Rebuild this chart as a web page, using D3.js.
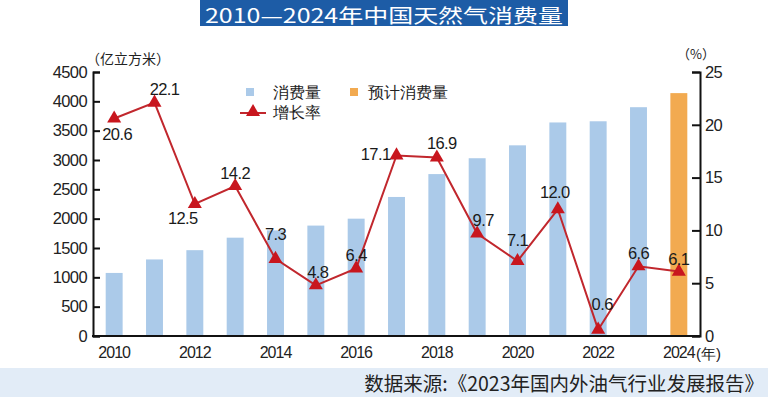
<!DOCTYPE html>
<html>
<head>
<meta charset="utf-8">
<script src="https://cdn.jsdelivr.net/npm/d3@7"></script>
<style>
  body { margin: 0; background: #fff; }
  svg { display: block; }
  text { font-family: "Liberation Sans", Arial, sans-serif; }
  .cjk { font-family: "Noto Sans CJK SC", sans-serif; }
</style>
</head>
<body>
<svg id="chart" width="768" height="397"></svg>
<script>
// data
const years = ['2010', '2011', '2012', '2013', '2014', '2015', '2016', '2017',
  '2018', '2019', '2020', '2021', '2022', '2023', '2024'];
const consumption = [1075, 1305, 1463, 1676, 1800, 1882, 2000, 2370,
  2760, 3030, 3250, 3640, 3660, 3900, 4140];
const growth = [20.6, 22.1, 12.5, 14.2, 7.3, 4.8, 6.4, 17.1, 16.9, 9.7, 7.1, 12.0, 0.6, 6.6, 6.1];
const forecastYear = '2024';
const leftTicks = [0, 500, 1000, 1500, 2000, 2500, 3000, 3500, 4000, 4500];
const rightTicks = [0, 5, 10, 15, 20, 25];
const xTickYears = ['2010', '2012', '2014', '2016', '2018', '2020', '2022', '2024'];

const svg = d3.select('#chart');

const plot = { left: 94, right: 699, top: 72, bottom: 336 };

const x = d3.scaleBand()
  .domain(years)
  .range([plot.left, plot.right])
  .paddingInner(0.58)
  .paddingOuter(0.29);

const yL = d3.scaleLinear().domain([0, 4500]).range([plot.bottom, plot.top]);
const yR = d3.scaleLinear().domain([0, 25]).range([plot.bottom, plot.top]);

// title
svg.append('rect')
  .attr('x', 200).attr('y', 0).attr('width', 368).attr('height', 26)
  .attr('fill', '#1d5ca6');
svg.append('text')
  .attr('class', 'cjk')
  .attr('x', 384).attr('y', 23)
  .attr('text-anchor', 'middle')
  .attr('fill', '#fff')
  .attr('font-size', 19.5)
  .attr('textLength', 358)
  .attr('lengthAdjust', 'spacingAndGlyphs')
  .text('2010—2024年中国天然气消费量');

// footer band
svg.append('rect')
  .attr('x', 0).attr('y', 368).attr('width', 768).attr('height', 29)
  .attr('fill', '#e2ecf7');
svg.append('text')
  .attr('class', 'cjk')
  .attr('x', 764).attr('y', 391)
  .attr('text-anchor', 'end')
  .attr('fill', '#222')
  .attr('font-size', 19.5)
  .text('数据来源:《2023年国内外油气行业发展报告》');

// bars
svg.append('g')
  .selectAll('rect')
  .data(years)
  .join('rect')
  .attr('x', d => x(d))
  .attr('width', x.bandwidth())
  .attr('y', (d, i) => yL(consumption[i]))
  .attr('height', (d, i) => yL(0) - yL(consumption[i]))
  .attr('fill', d => d === forecastYear ? '#f2aa50' : '#abcae9');

// axes
const axisStyle = g => {
  g.selectAll('path.domain').attr('stroke', '#111').attr('stroke-width', 2);
  g.selectAll('.tick line').attr('stroke', '#111').attr('stroke-width', 2);
  g.selectAll('.tick text')
    .attr('fill', '#222')
    .attr('font-size', 16.5)
    .attr('letter-spacing', -0.6);
};

svg.append('g')
  .attr('transform', `translate(${plot.left - 1},0)`)
  .call(d3.axisLeft(yL).tickValues(leftTicks).tickFormat(d3.format('d'))
    .tickSize(-7).tickSizeOuter(-7).tickPadding(6))
  .call(axisStyle)
  .call(g => g.selectAll('.tick text').attr('x', -6));

svg.append('g')
  .attr('transform', `translate(${plot.right + 1},0)`)
  .call(d3.axisRight(yR).tickValues(rightTicks).tickFormat(d3.format('d'))
    .tickSize(-8).tickSizeOuter(-8).tickPadding(5))
  .call(axisStyle)
  .call(g => g.selectAll('.tick text').attr('x', 5));

svg.append('g')
  .attr('transform', `translate(0,${plot.bottom})`)
  .call(d3.axisBottom(x).tickValues(xTickYears).tickSize(0).tickSizeOuter(0).tickPadding(11))
  .call(axisStyle)
  .call(g => g.select('path.domain').attr('d', `M${plot.left - 2},0H${plot.right + 2}`))
  .call(g => g.selectAll('.tick text').attr('font-size', 16).attr('letter-spacing', -1));

// axis units
svg.append('text').attr('class', 'cjk')
  .attr('x', 86).attr('y', 64).attr('font-size', 14).attr('fill', '#222')
  .text('（亿立方米）');
svg.append('text').attr('class', 'cjk')
  .attr('x', 677).attr('y', 59).attr('font-size', 13).attr('fill', '#222')
  .text('（%）');
svg.append('text')
  .attr('x', 696).attr('y', 359).attr('font-size', 15).attr('fill', '#222')
  .text('(年)');

// growth line
const cx = d => x(d) + x.bandwidth() / 2;
const line = d3.line()
  .x((d, i) => cx(years[i]))
  .y(d => yR(d));

svg.append('path')
  .datum(growth)
  .attr('d', line)
  .attr('fill', 'none')
  .attr('stroke', '#c1272d')
  .attr('stroke-width', 2);

const tri = d3.symbol().type(d3.symbolTriangle).size(85);
svg.append('g')
  .selectAll('path')
  .data(growth)
  .join('path')
  .attr('d', tri)
  .attr('transform', (d, i) => `translate(${cx(years[i])},${yR(d)})`)
  .attr('fill', '#c8161e');

// label placement tweaks: [dx, dy, anchor]
const labelPlace = [
  [3, 22, 'middle'], [10, -8, 'middle'], [-12, 20, 'middle'], [0, -7, 'middle'],
  [0, -19, 'middle'], [2, -7, 'middle'], [0, -7, 'middle'], [-6, 5, 'end'],
  [5, -9, 'middle'], [6, -8, 'middle'], [0, -15, 'middle'], [-3, -11, 'middle'],
  [4, -20, 'middle'], [0, -7, 'middle'], [0, -7, 'middle']
];

svg.append('g')
  .selectAll('text')
  .data(growth)
  .join('text')
  .attr('x', (d, i) => cx(years[i]) + labelPlace[i][0])
  .attr('y', (d, i) => yR(d) + labelPlace[i][1])
  .attr('text-anchor', (d, i) => labelPlace[i][2])
  .attr('font-size', 16.5)
  .attr('letter-spacing', -0.6)
  .attr('fill', '#1a1a1a')
  .text(d => d.toFixed(1));

// legend
const legend = svg.append('g').attr('class', 'cjk');
legend.append('rect').attr('x', 246).attr('y', 88).attr('width', 8).attr('height', 8).attr('fill', '#abcae9');
legend.append('text').attr('x', 273).attr('y', 97.5).attr('font-size', 15.5).attr('fill', '#222').text('消费量');
legend.append('rect').attr('x', 350).attr('y', 88).attr('width', 8).attr('height', 8).attr('fill', '#f2aa50');
legend.append('text').attr('x', 368).attr('y', 97.5).attr('font-size', 15.5).attr('fill', '#222').text('预计消费量');
legend.append('line').attr('x1', 240).attr('x2', 266).attr('y1', 113).attr('y2', 113)
  .attr('stroke', '#c1272d').attr('stroke-width', 2);
legend.append('path').attr('d', tri).attr('transform', 'translate(253,112)').attr('fill', '#c8161e');
legend.append('text').attr('x', 273).attr('y', 118).attr('font-size', 15.5).attr('fill', '#222').text('增长率');
</script>
</body>
</html>
